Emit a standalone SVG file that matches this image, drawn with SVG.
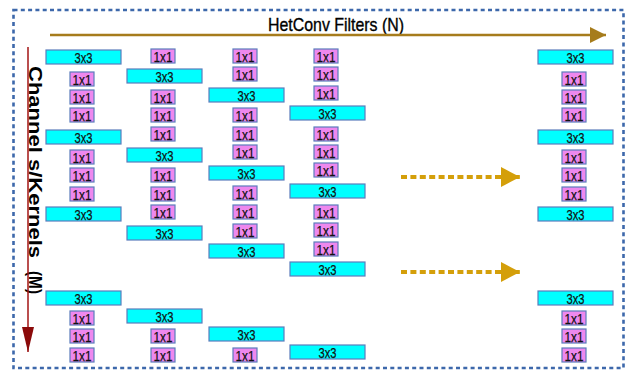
<svg xmlns="http://www.w3.org/2000/svg" width="632" height="372" viewBox="0 0 632 372">
<style>
.k3{fill:#00ffff;stroke:#5b7cbc;stroke-width:1.2}
.k1{fill:#ee88ee;stroke:#5b7cbc;stroke-width:1.2}
.t{font-family:"Liberation Sans",Arial,sans-serif;font-size:15.5px;text-anchor:middle;fill:#111;stroke:#111;stroke-width:0.25}
.lbl{font-family:"Liberation Sans",Arial,sans-serif;fill:#000}
</style>
<defs>
<marker id="mh" markerUnits="userSpaceOnUse" markerWidth="18" markerHeight="18" refX="16" refY="8" orient="auto"><path d="M0,0 L16,8 L0,16 Z" fill="#a67c1c"/></marker>
<marker id="mv" markerUnits="userSpaceOnUse" markerWidth="26" markerHeight="14" refX="25" refY="6" orient="auto"><path d="M0,0 L25,6 L0,12 Z" fill="#8b0a0a"/></marker>
<marker id="md" markerUnits="userSpaceOnUse" markerWidth="20" markerHeight="22" refX="19" refY="10" orient="auto"><path d="M0,0 L19,10 L0,20 Z" fill="#d49f0a"/></marker>
</defs>
<rect x="13.5" y="10" width="610" height="358" fill="none" stroke="#3d68ab" stroke-width="2.6" stroke-dasharray="4,3.3"/>
<g id="title"><text class="lbl" x="336" y="31" font-size="19" text-anchor="middle" textLength="136" lengthAdjust="spacingAndGlyphs" stroke="#000" stroke-width="0.35">HetConv Filters (N)</text></g>
<g id="ylabel"><text class="lbl" transform="translate(29,66) rotate(90)" x="0" y="0" font-size="17.5" font-weight="bold" textLength="192" lengthAdjust="spacingAndGlyphs">Channel s/Kernels</text><text class="lbl" transform="translate(29,271) rotate(90)" x="0" y="0" font-size="17.5" font-weight="bold" textLength="23" lengthAdjust="spacingAndGlyphs">(M)</text></g>
<g id="connectors">
<line x1="50" y1="35" x2="606" y2="35" stroke="#a67c1c" stroke-width="2.5" marker-end="url(#mh)"/>
<line x1="28" y1="47" x2="28" y2="352" stroke="#a31515" stroke-width="1.5" marker-end="url(#mv)"/>
<line x1="401" y1="177" x2="520" y2="177" stroke="#d49f0a" stroke-width="4" stroke-dasharray="6,3.4" marker-end="url(#md)"/>
<line x1="401" y1="272" x2="520" y2="272" stroke="#d49f0a" stroke-width="4" stroke-dasharray="6,3.4" marker-end="url(#md)"/>
</g>
<g id="col1">
<g id="c1a"><rect class="k3" x="46" y="50" width="75" height="14"/><text class="t" x="83.5" y="62.5" textLength="18" lengthAdjust="spacingAndGlyphs">3x3</text></g>
<g id="c1b"><rect class="k1" x="70" y="72" width="24" height="14"/><text class="t" x="82" y="84.5" textLength="19" lengthAdjust="spacingAndGlyphs">1x1</text></g>
<g id="c1c"><rect class="k1" x="70" y="90" width="24" height="14"/><text class="t" x="82" y="102.5" textLength="19" lengthAdjust="spacingAndGlyphs">1x1</text></g>
<g id="c1d"><rect class="k1" x="70" y="108" width="24" height="14"/><text class="t" x="82" y="120.5" textLength="19" lengthAdjust="spacingAndGlyphs">1x1</text></g>
<g id="c1e"><rect class="k3" x="46" y="130" width="75" height="14"/><text class="t" x="83.5" y="142.5" textLength="18" lengthAdjust="spacingAndGlyphs">3x3</text></g>
<g id="c1f"><rect class="k1" x="70" y="150" width="24" height="14"/><text class="t" x="82" y="162.5" textLength="19" lengthAdjust="spacingAndGlyphs">1x1</text></g>
<g id="c1g"><rect class="k1" x="70" y="168" width="24" height="14"/><text class="t" x="82" y="180.5" textLength="19" lengthAdjust="spacingAndGlyphs">1x1</text></g>
<g id="c1h"><rect class="k1" x="70" y="187" width="24" height="14"/><text class="t" x="82" y="199.5" textLength="19" lengthAdjust="spacingAndGlyphs">1x1</text></g>
<g id="c1i"><rect class="k3" x="46" y="207" width="75" height="14"/><text class="t" x="83.5" y="219.5" textLength="18" lengthAdjust="spacingAndGlyphs">3x3</text></g>
<g id="c1j"><rect class="k3" x="46" y="291" width="75" height="14"/><text class="t" x="83.5" y="303.5" textLength="18" lengthAdjust="spacingAndGlyphs">3x3</text></g>
<g id="c1k"><rect class="k1" x="70" y="311" width="24" height="14"/><text class="t" x="82" y="323.5" textLength="19" lengthAdjust="spacingAndGlyphs">1x1</text></g>
<g id="c1l"><rect class="k1" x="70" y="329" width="24" height="14"/><text class="t" x="82" y="341.5" textLength="19" lengthAdjust="spacingAndGlyphs">1x1</text></g>
<g id="c1m"><rect class="k1" x="70" y="348" width="24" height="14"/><text class="t" x="82" y="360.5" textLength="19" lengthAdjust="spacingAndGlyphs">1x1</text></g>
</g>
<g id="col2">
<g id="c2a"><rect class="k1" x="151" y="49" width="24" height="14"/><text class="t" x="163" y="61.5" textLength="19" lengthAdjust="spacingAndGlyphs">1x1</text></g>
<g id="c2b"><rect class="k3" x="127" y="69" width="75" height="14"/><text class="t" x="164.5" y="81.5" textLength="18" lengthAdjust="spacingAndGlyphs">3x3</text></g>
<g id="c2c"><rect class="k1" x="151" y="90" width="24" height="14"/><text class="t" x="163" y="102.5" textLength="19" lengthAdjust="spacingAndGlyphs">1x1</text></g>
<g id="c2d"><rect class="k1" x="151" y="108" width="24" height="14"/><text class="t" x="163" y="120.5" textLength="19" lengthAdjust="spacingAndGlyphs">1x1</text></g>
<g id="c2e"><rect class="k1" x="151" y="127" width="24" height="14"/><text class="t" x="163" y="139.5" textLength="19" lengthAdjust="spacingAndGlyphs">1x1</text></g>
<g id="c2f"><rect class="k3" x="127" y="148" width="75" height="14"/><text class="t" x="164.5" y="160.5" textLength="18" lengthAdjust="spacingAndGlyphs">3x3</text></g>
<g id="c2g"><rect class="k1" x="151" y="168" width="24" height="14"/><text class="t" x="163" y="180.5" textLength="19" lengthAdjust="spacingAndGlyphs">1x1</text></g>
<g id="c2h"><rect class="k1" x="151" y="187" width="24" height="14"/><text class="t" x="163" y="199.5" textLength="19" lengthAdjust="spacingAndGlyphs">1x1</text></g>
<g id="c2i"><rect class="k1" x="151" y="205" width="24" height="14"/><text class="t" x="163" y="217.5" textLength="19" lengthAdjust="spacingAndGlyphs">1x1</text></g>
<g id="c2j"><rect class="k3" x="127" y="226" width="75" height="14"/><text class="t" x="164.5" y="238.5" textLength="18" lengthAdjust="spacingAndGlyphs">3x3</text></g>
<g id="c2k"><rect class="k3" x="127" y="309" width="75" height="14"/><text class="t" x="164.5" y="321.5" textLength="18" lengthAdjust="spacingAndGlyphs">3x3</text></g>
<g id="c2l"><rect class="k1" x="151" y="329" width="24" height="14"/><text class="t" x="163" y="341.5" textLength="19" lengthAdjust="spacingAndGlyphs">1x1</text></g>
<g id="c2m"><rect class="k1" x="151" y="348" width="24" height="14"/><text class="t" x="163" y="360.5" textLength="19" lengthAdjust="spacingAndGlyphs">1x1</text></g>
</g>
<g id="col3">
<g id="c3a"><rect class="k1" x="233" y="49" width="24" height="14"/><text class="t" x="245" y="61.5" textLength="19" lengthAdjust="spacingAndGlyphs">1x1</text></g>
<g id="c3b"><rect class="k1" x="233" y="67" width="24" height="14"/><text class="t" x="245" y="79.5" textLength="19" lengthAdjust="spacingAndGlyphs">1x1</text></g>
<g id="c3c"><rect class="k3" x="209" y="88" width="75" height="14"/><text class="t" x="246.5" y="100.5" textLength="18" lengthAdjust="spacingAndGlyphs">3x3</text></g>
<g id="c3d"><rect class="k1" x="233" y="108" width="24" height="14"/><text class="t" x="245" y="120.5" textLength="19" lengthAdjust="spacingAndGlyphs">1x1</text></g>
<g id="c3e"><rect class="k1" x="233" y="127" width="24" height="14"/><text class="t" x="245" y="139.5" textLength="19" lengthAdjust="spacingAndGlyphs">1x1</text></g>
<g id="c3f"><rect class="k1" x="233" y="145" width="24" height="14"/><text class="t" x="245" y="157.5" textLength="19" lengthAdjust="spacingAndGlyphs">1x1</text></g>
<g id="c3g"><rect class="k3" x="209" y="166" width="75" height="14"/><text class="t" x="246.5" y="178.5" textLength="18" lengthAdjust="spacingAndGlyphs">3x3</text></g>
<g id="c3h"><rect class="k1" x="233" y="186" width="24" height="14"/><text class="t" x="245" y="198.5" textLength="19" lengthAdjust="spacingAndGlyphs">1x1</text></g>
<g id="c3i"><rect class="k1" x="233" y="205" width="24" height="14"/><text class="t" x="245" y="217.5" textLength="19" lengthAdjust="spacingAndGlyphs">1x1</text></g>
<g id="c3j"><rect class="k1" x="233" y="224" width="24" height="14"/><text class="t" x="245" y="236.5" textLength="19" lengthAdjust="spacingAndGlyphs">1x1</text></g>
<g id="c3k"><rect class="k3" x="209" y="244" width="75" height="14"/><text class="t" x="246.5" y="256.5" textLength="18" lengthAdjust="spacingAndGlyphs">3x3</text></g>
<g id="c3l"><rect class="k3" x="209" y="327" width="75" height="14"/><text class="t" x="246.5" y="339.5" textLength="18" lengthAdjust="spacingAndGlyphs">3x3</text></g>
<g id="c3m"><rect class="k1" x="233" y="348" width="24" height="14"/><text class="t" x="245" y="360.5" textLength="19" lengthAdjust="spacingAndGlyphs">1x1</text></g>
</g>
<g id="col4">
<g id="c4a"><rect class="k1" x="314" y="49" width="24" height="14"/><text class="t" x="326" y="61.5" textLength="19" lengthAdjust="spacingAndGlyphs">1x1</text></g>
<g id="c4b"><rect class="k1" x="314" y="67" width="24" height="14"/><text class="t" x="326" y="79.5" textLength="19" lengthAdjust="spacingAndGlyphs">1x1</text></g>
<g id="c4c"><rect class="k1" x="314" y="86" width="24" height="14"/><text class="t" x="326" y="98.5" textLength="19" lengthAdjust="spacingAndGlyphs">1x1</text></g>
<g id="c4d"><rect class="k3" x="290" y="106" width="75" height="14"/><text class="t" x="327.5" y="118.5" textLength="18" lengthAdjust="spacingAndGlyphs">3x3</text></g>
<g id="c4e"><rect class="k1" x="314" y="127" width="24" height="14"/><text class="t" x="326" y="139.5" textLength="19" lengthAdjust="spacingAndGlyphs">1x1</text></g>
<g id="c4f"><rect class="k1" x="314" y="145" width="24" height="14"/><text class="t" x="326" y="157.5" textLength="19" lengthAdjust="spacingAndGlyphs">1x1</text></g>
<g id="c4g"><rect class="k1" x="314" y="163" width="24" height="14"/><text class="t" x="326" y="175.5" textLength="19" lengthAdjust="spacingAndGlyphs">1x1</text></g>
<g id="c4h"><rect class="k3" x="290" y="184" width="75" height="14"/><text class="t" x="327.5" y="196.5" textLength="18" lengthAdjust="spacingAndGlyphs">3x3</text></g>
<g id="c4i"><rect class="k1" x="314" y="205" width="24" height="14"/><text class="t" x="326" y="217.5" textLength="19" lengthAdjust="spacingAndGlyphs">1x1</text></g>
<g id="c4j"><rect class="k1" x="314" y="223" width="24" height="14"/><text class="t" x="326" y="235.5" textLength="19" lengthAdjust="spacingAndGlyphs">1x1</text></g>
<g id="c4k"><rect class="k1" x="314" y="242" width="24" height="14"/><text class="t" x="326" y="254.5" textLength="19" lengthAdjust="spacingAndGlyphs">1x1</text></g>
<g id="c4l"><rect class="k3" x="290" y="262" width="75" height="14"/><text class="t" x="327.5" y="274.5" textLength="18" lengthAdjust="spacingAndGlyphs">3x3</text></g>
<g id="c4m"><rect class="k3" x="290" y="345" width="75" height="14"/><text class="t" x="327.5" y="357.5" textLength="18" lengthAdjust="spacingAndGlyphs">3x3</text></g>
</g>
<g id="col5">
<g id="c5a"><rect class="k3" x="538" y="50" width="75" height="14"/><text class="t" x="575.5" y="62.5" textLength="18" lengthAdjust="spacingAndGlyphs">3x3</text></g>
<g id="c5b"><rect class="k1" x="562" y="72" width="24" height="14"/><text class="t" x="574" y="84.5" textLength="19" lengthAdjust="spacingAndGlyphs">1x1</text></g>
<g id="c5c"><rect class="k1" x="562" y="90" width="24" height="14"/><text class="t" x="574" y="102.5" textLength="19" lengthAdjust="spacingAndGlyphs">1x1</text></g>
<g id="c5d"><rect class="k1" x="562" y="108" width="24" height="14"/><text class="t" x="574" y="120.5" textLength="19" lengthAdjust="spacingAndGlyphs">1x1</text></g>
<g id="c5e"><rect class="k3" x="538" y="130" width="75" height="14"/><text class="t" x="575.5" y="142.5" textLength="18" lengthAdjust="spacingAndGlyphs">3x3</text></g>
<g id="c5f"><rect class="k1" x="562" y="150" width="24" height="14"/><text class="t" x="574" y="162.5" textLength="19" lengthAdjust="spacingAndGlyphs">1x1</text></g>
<g id="c5g"><rect class="k1" x="562" y="168" width="24" height="14"/><text class="t" x="574" y="180.5" textLength="19" lengthAdjust="spacingAndGlyphs">1x1</text></g>
<g id="c5h"><rect class="k1" x="562" y="187" width="24" height="14"/><text class="t" x="574" y="199.5" textLength="19" lengthAdjust="spacingAndGlyphs">1x1</text></g>
<g id="c5i"><rect class="k3" x="538" y="207" width="75" height="14"/><text class="t" x="575.5" y="219.5" textLength="18" lengthAdjust="spacingAndGlyphs">3x3</text></g>
<g id="c5j"><rect class="k3" x="538" y="291" width="75" height="14"/><text class="t" x="575.5" y="303.5" textLength="18" lengthAdjust="spacingAndGlyphs">3x3</text></g>
<g id="c5k"><rect class="k1" x="562" y="311" width="24" height="14"/><text class="t" x="574" y="323.5" textLength="19" lengthAdjust="spacingAndGlyphs">1x1</text></g>
<g id="c5l"><rect class="k1" x="562" y="329" width="24" height="14"/><text class="t" x="574" y="341.5" textLength="19" lengthAdjust="spacingAndGlyphs">1x1</text></g>
<g id="c5m"><rect class="k1" x="562" y="348" width="24" height="14"/><text class="t" x="574" y="360.5" textLength="19" lengthAdjust="spacingAndGlyphs">1x1</text></g>
</g>
</svg>
